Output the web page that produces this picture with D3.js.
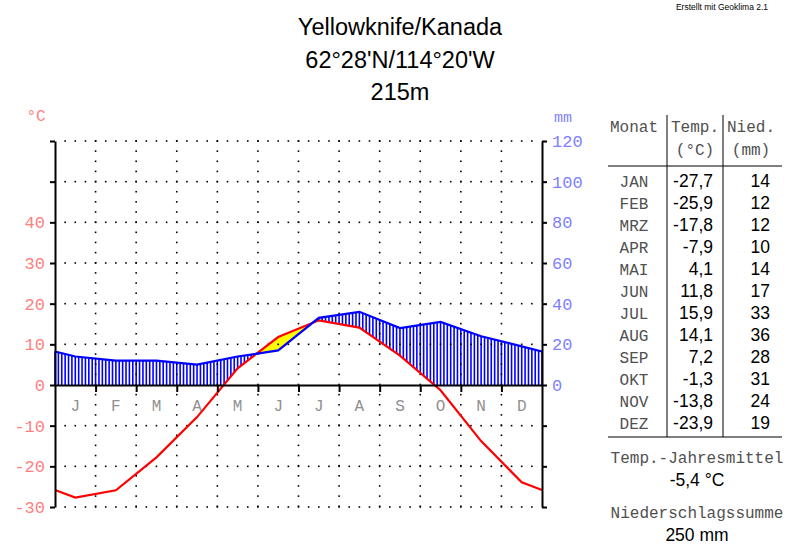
<!DOCTYPE html>
<html><head><meta charset="utf-8">
<script src="https://cdn.jsdelivr.net/npm/d3@7"></script>
<style>body{margin:0;background:#fff}svg{display:block}</style>
</head><body>
<script>
const months = ["J","F","M","A","M","J","J","A","S","O","N","D"];
const monthNames = ["JAN","FEB","MRZ","APR","MAI","JUN","JUL","AUG","SEP","OKT","NOV","DEZ"];
const temp = [-27.7,-25.9,-17.8,-7.9,4.1,11.8,15.9,14.1,7.2,-1.3,-13.8,-23.9];
const precip = [14,12,12,10,14,17,33,36,28,31,24,19];
const tempTicks = [-30,-20,-10,0,10,20,30,40,50,60];
const precipTicks = [0,20,40,60,80,100,120];
const titleLines = ["Yellowknife/Kanada","62°28'N/114°20'W","215m"];
const meanTemp = "-5,4 °C", sumPrecip = "250 mm";

const W=800,H=557;
const svg=d3.select("body").append("svg").attr("width",W).attr("height",H);
const mono="'Liberation Mono','Courier New',monospace", sans="'Liberation Sans',Arial,sans-serif";

const x=d3.scaleLinear().domain([0,12]).range([55,542]);
const yT=d3.scaleLinear().domain([-30,60]).range([507,141]);
const yP=d3.scaleLinear().domain([-60,120]).range([507,141]);

const edgeT=(temp[0]+temp[11])/2, edgeP=(precip[0]+precip[11])/2;
const tPts=[[0,edgeT],...temp.map((v,i)=>[i+0.5,v]),[12,edgeT]];
const pPts=[[0,edgeP],...precip.map((v,i)=>[i+0.5,v]),[12,edgeP]];
function interp(pts,m){for(let i=0;i<pts.length-1;i++){const a=pts[i],b=pts[i+1];if(m>=a[0]&&m<=b[0]){return a[1]+(b[1]-a[1])*(m-a[0])/(b[0]-a[0]);}}return pts[pts.length-1][1];}

// yellow arid fill
const samples=d3.range(0,12.0001,0.01);
svg.append("path").datum(samples)
 .attr("d",d3.area().x(m=>x(m)).y0(m=>yP(interp(pPts,m))).y1(m=>yT(Math.max(interp(tPts,m),interp(pPts,m)/2))))
 .attr("fill","#ffff00");

// hatching
const hatch=d3.range(0,12.0001,1/12);
svg.append("g").selectAll("line").data(hatch).join("line")
 .each(function(m){
   const t=interp(tPts,m), p=interp(pPts,m);
   const lo=Math.max(t,0);
   const s=d3.select(this);
   const xx=x(m);
   if(p/2>lo){s.attr("x1",xx).attr("x2",xx).attr("y1",yT(lo)).attr("y2",yP(p));}
   else s.remove();
 })
 .attr("stroke","#0000ff").attr("stroke-width",1.6);

// grid dots
const step=(x(1)-x(0))/4;
const gdots=svg.append("g").attr("fill","#000");
tempTicks.filter(v=>v!==0).forEach(v=>{
  const yy=yT(v);
  for(let k=1;k<48;k++){gdots.append("rect").attr("x",x(0)+k*step-0.8).attr("y",yy-0.8).attr("width",1.6).attr("height",1.6);}
});
for(let mth=1;mth<12;mth++){
  const xx=x(mth);
  for(let k=0;k<=36;k++){const yy=yT(60)+k*step; gdots.append("rect").attr("x",xx-0.8).attr("y",yy-0.8).attr("width",1.6).attr("height",1.6);}
}

// lines
svg.append("path").datum(tPts).attr("d",d3.line().x(d=>x(d[0])).y(d=>yT(d[1])))
 .attr("fill","none").attr("stroke","#ff0000").attr("stroke-width",2.2);
svg.append("path").datum(pPts).attr("d",d3.line().x(d=>x(d[0])).y(d=>yP(d[1])))
 .attr("fill","none").attr("stroke","#0000ff").attr("stroke-width",2.2);

// axes
const axL=svg.append("g").attr("transform",`translate(${x(0)},0)`)
 .call(d3.axisLeft(yT).tickValues(tempTicks).tickSize(5).tickSizeOuter(0).tickFormat(v=>v<=40?String(v):""));
const axR=svg.append("g").attr("transform",`translate(${x(12)},0)`)
 .call(d3.axisRight(yP).tickValues(d3.range(-60,121,20)).tickSize(5).tickSizeOuter(0).tickFormat(v=>v>=0?v:""));
const axB=svg.append("g").attr("transform",`translate(0,${yT(0)})`)
 .call(d3.axisBottom(x).tickValues(d3.range(1,12)).tickSize(7).tickSizeOuter(0).tickFormat(""));
[axL,axR,axB].forEach(a=>{a.selectAll("path,line").attr("stroke","#000").attr("stroke-width",2);});
axL.selectAll("text").attr("fill","#ff8080").attr("font-family",mono).attr("font-size",17).attr("dx",-2);
axR.selectAll("text").attr("fill","#8080ff").attr("font-family",mono).attr("font-size",17).attr("dx",2);

svg.append("g").selectAll("text").data(months).join("text")
 .attr("x",(d,i)=>x(i+0.5)).attr("y",yT(0)+26).attr("text-anchor","middle")
 .attr("font-family",mono).attr("font-size",16).attr("fill","#909090").text(d=>d);

svg.append("text").attr("x",36).attr("y",121).attr("text-anchor","middle").attr("font-family",mono).attr("font-size",16).attr("fill","#ff8080").text("°C");
svg.append("text").attr("x",563).attr("y",122).attr("text-anchor","middle").attr("font-family",mono).attr("font-size",15).attr("fill","#8080ff").text("mm");

// title
svg.append("g").selectAll("text").data(titleLines).join("text")
 .attr("x",400).attr("y",(d,i)=>35+i*32.5).attr("text-anchor","middle")
 .attr("font-family",sans).attr("font-size",23.5).attr("fill","#000").text(d=>d);
svg.append("text").attr("x",722).attr("y",10).attr("text-anchor","middle").attr("font-family",sans).attr("font-size",8.5).attr("fill","#000").text("Erstellt mit Geoklima 2.1");

// table
const tb=svg.append("g");
const gray="#505050";
tb.append("line").attr("x1",667).attr("x2",667).attr("y1",115).attr("y2",437).attr("stroke","#000").attr("stroke-width",1);
tb.append("line").attr("x1",723).attr("x2",723).attr("y1",115).attr("y2",437).attr("stroke","#000").attr("stroke-width",1);
tb.append("line").attr("x1",608).attr("x2",782).attr("y1",166).attr("y2",166).attr("stroke","#000").attr("stroke-width",1);
tb.append("line").attr("x1",608).attr("x2",782).attr("y1",437).attr("y2",437).attr("stroke","#000").attr("stroke-width",1);
const hdr=(t,xx,yy,anchor)=>tb.append("text").attr("x",xx).attr("y",yy).attr("text-anchor",anchor).attr("font-family",mono).attr("font-size",16).attr("fill",gray).text(t);
hdr("Monat",634,132,"middle");hdr("Temp.",695,132,"middle");hdr("Nied.",751,132,"middle");
hdr("(°C)",695,155,"middle");hdr("(mm)",751,155,"middle");
tb.append("g").selectAll("text").data(monthNames).join("text")
 .attr("x",634).attr("y",(d,i)=>187+i*22).attr("text-anchor","middle").attr("font-family",mono).attr("font-size",16).attr("fill",gray).text(d=>d);
tb.append("g").selectAll("text").data(temp).join("text")
 .attr("x",713).attr("y",(d,i)=>187+i*22).attr("text-anchor","end").attr("font-family",sans).attr("font-size",17.5).attr("fill","#000").text(d=>d.toFixed(1).replace(".",","));
tb.append("g").selectAll("text").data(precip).join("text")
 .attr("x",770).attr("y",(d,i)=>187+i*22).attr("text-anchor","end").attr("font-family",sans).attr("font-size",17.5).attr("fill","#000").text(d=>d);
hdr("Temp.-Jahresmittel",697,463,"middle");
tb.append("text").attr("x",697).attr("y",486).attr("text-anchor","middle").attr("font-family",sans).attr("font-size",17.5).text(meanTemp);
hdr("Niederschlagssumme",697,518,"middle");
tb.append("text").attr("x",697).attr("y",541).attr("text-anchor","middle").attr("font-family",sans).attr("font-size",17.5).text(sumPrecip);
</script>
</body></html>
